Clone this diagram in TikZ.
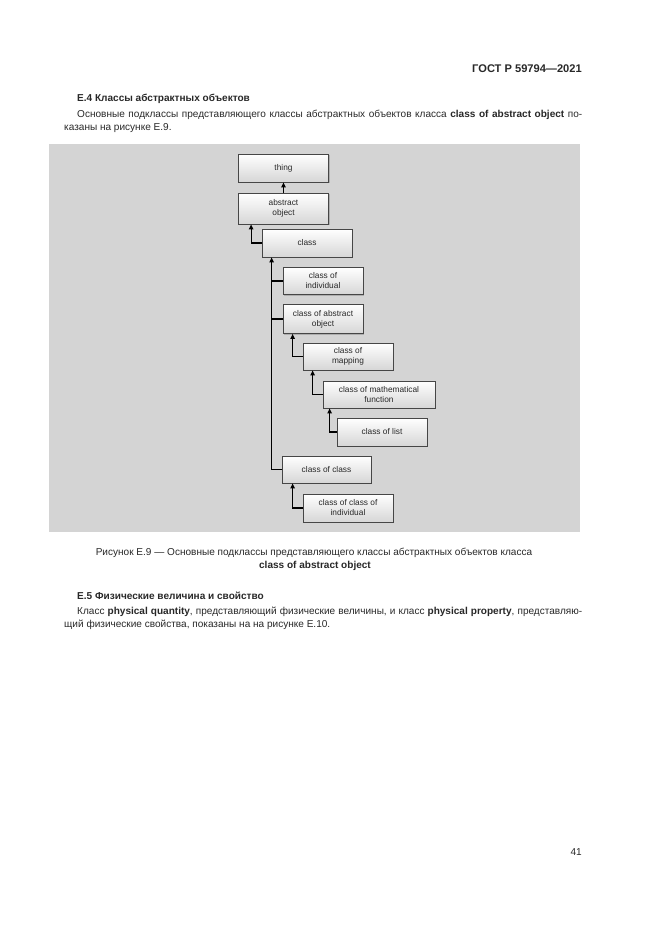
\documentclass[tikz,border=0pt]{standalone}
\usepackage{fontspec}
\setmainfont{Liberation Sans}
\usetikzlibrary{shadows,arrows.meta}
\newdimen\pxu \pxu=0.9006pt
\definecolor{bg}{RGB}{212,212,212}
\definecolor{txt}{RGB}{40,40,40}
\begin{document}
\begin{tikzpicture}[x=0.9006pt,y=-0.9006pt,
  box/.style={draw=gray!55!black, line width=0.7pt, top color=white, bottom color=gray!32,
    drop shadow={shadow xshift=1.2pt, shadow yshift=-1.2pt, opacity=0.45},
    align=center, font=\fontsize{7.5}{9}\selectfont, inner sep=0pt, text=txt},
  link/.style={line width=1pt, -{Triangle[length=4.5pt,width=4pt]}},
  branch/.style={line width=1pt},
  body/.style={font=\fontsize{9.05}{11.7}\selectfont, inner sep=0pt, text=txt},
  bodyb/.style={font=\bfseries\fontsize{9.05}{11.7}\selectfont, inner sep=0pt, text=txt}]
\useasboundingbox (0,0) rectangle (661,935);

% header and text
\node[anchor=base east, font=\bfseries\fontsize{10}{12}\selectfont, inner sep=0pt, text=txt] (hdr) at (582,72) {ГОСТ Р 59794—2021};
\node[bodyb, anchor=base west] (s4) at (77,101) {Е.4 Классы абстрактных объектов};
\node[body, anchor=base west] (p1a) at (77,117) {\makebox[505\pxu][s]{Основные подклассы представляющего классы абстрактных объектов класса \textbf{class of abstract object} по-}};
\node[body, anchor=base west] (p1b) at (64,130) {казаны на рисунке Е.9.};

% figure background
\node[fill=bg, minimum width=531\pxu, minimum height=388\pxu, anchor=north west, inner sep=0pt] (bgr) at (49,144) {};

% boxes
\node[box, minimum width=90\pxu, minimum height=28\pxu] (thing) at (283.5,168) {thing};
\node[box, minimum width=90\pxu, minimum height=31\pxu] (absobj) at (283.5,208.5) {abstract\\object};
\node[box, minimum width=90\pxu, minimum height=28\pxu] (class) at (307,243) {class};
\node[box, minimum width=80\pxu, minimum height=27\pxu] (coi) at (323,281) {class of\\individual};
\node[box, minimum width=80\pxu, minimum height=29\pxu] (coao) at (323,319) {class of abstract\\object};
\node[box, minimum width=90\pxu, minimum height=27\pxu] (map) at (348,356.5) {class of\\mapping};
\node[box, minimum width=112\pxu, minimum height=27\pxu] (mf) at (379,394.5) {class of mathematical\\function};
\node[box, minimum width=90\pxu, minimum height=28\pxu] (list) at (382,432) {class of list};
\node[box, minimum width=89\pxu, minimum height=27\pxu] (coc) at (326.5,469.5) {class of class};
\node[box, minimum width=90\pxu, minimum height=28\pxu] (ccoi) at (348,508) {class of class of\\individual};

% connectors
\draw[link] (absobj.north) -- (thing.south);
\draw[link] (class.west) -| ([xshift=13\pxu]absobj.south west);
\coordinate (trunk) at ([xshift=10\pxu]class.south west);
\draw[link] (coc.west) -| (trunk);
\draw[branch] (coi.west) -- (coi.west -| trunk);
\draw[branch] (coao.west) -- (coao.west -| trunk);
\draw[link] (map.west) -| ([xshift=10\pxu]coao.south west);
\draw[link] (mf.west) -| ([xshift=10\pxu]map.south west);
\draw[link] (list.west) -| ([xshift=7\pxu]mf.south west);
\draw[link] (ccoi.west) -| ([xshift=11\pxu]coc.south west);

% caption
\node[body, anchor=base] (cap1) at (314,555) {Рисунок Е.9 — Основные подклассы представляющего классы абстрактных объектов класса};
\node[bodyb, anchor=base] (cap2) at (315,568) {class of abstract object};

\node[bodyb, anchor=base west] (s5) at (77,599) {Е.5 Физические величина и свойство};
\node[body, anchor=base west] (p2a) at (77,614) {\makebox[505\pxu][s]{Класс \textbf{physical quantity}, представляющий физические величины, и класс \textbf{physical property}, представляю-}};
\node[body, anchor=base west] (p2b) at (64,627) {щий физические свойства, показаны на на рисунке Е.10.};

\node[body, anchor=base east] (pg) at (582,855) {41};
\end{tikzpicture}
\end{document}
